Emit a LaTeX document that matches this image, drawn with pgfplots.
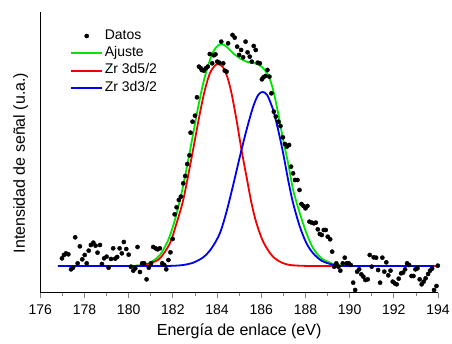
\documentclass[border=0pt]{standalone}
\usepackage{fontspec}
\setmainfont{Liberation Sans}
\usepackage{pgfplots}
\pgfplotsset{compat=1.18}
\definecolor{cgreen}{RGB}{0,230,0}
\definecolor{cred}{RGB}{240,0,0}
\definecolor{cblue}{RGB}{0,0,240}
\begin{document}
\begin{tikzpicture}
\path[use as bounding box] (-40.3pt,-51pt) rectangle (411.7pt,293pt);
\begin{axis}[
  scale only axis, width=397.7pt, height=281.3pt,
  xmin=176, xmax=194, ymin=0, ymax=12,
  axis x line*=bottom, axis y line*=left,
  x axis line style={-, line width=1pt},
  y axis line style={-, line width=1pt},
  xtick={176,178,...,194}, minor x tick num=1,
  ytick=\empty, minor ytick={1,2,...,11},
  major tick length=5pt, minor tick length=3pt,
  major x tick style={yshift=-5pt, line width=0.8pt},
  minor x tick style={yshift=-3pt, line width=0.8pt},
  minor y tick style={line width=0.6pt},
  /pgf/number format/assume math mode=true,
  /pgf/number format/1000 sep={},
  xticklabel style={font=\fontsize{14}{16}\selectfont, inner sep=0pt, yshift=-12pt},
  xlabel={Energía de enlace (eV)},
  ylabel={Intensidad de señal (u.a.)},
  xlabel style={font=\fontsize{16}{19}\selectfont, at={(axis description cs:0.5,0)}, anchor=base, yshift=-42.5pt, inner sep=0pt},
  ylabel style={font=\fontsize{16}{19}\selectfont, at={(axis description cs:-0.03,0.462)}, anchor=south, inner sep=0pt},
  legend cell align=left,
  legend style={draw=none, fill=none, at={(axis description cs:0.075,0.945)}, anchor=north west,
    font=\fontsize{14}{16}\selectfont, inner sep=0pt,
    nodes={inner xsep=2pt, inner ysep=1pt, text height=11pt, text depth=4.3pt}},
  legend image code/.code={\draw[#1] (0pt,0pt) -- (30.7pt,0pt);},
]
\addplot[only marks, mark=*, mark size=2.1pt, black,
  legend image code/.code={\fill[black] (15.5pt,0pt) circle (2.1pt);}] coordinates {
(176.98,1.479)(177.07,1.621)(177.16,1.692)(177.27,1.650)(177.39,1.010)(177.48,1.081)
(177.58,2.375)(177.69,1.266)(177.79,1.991)(177.90,1.436)(178.01,1.621)(178.10,1.266)
(178.19,1.806)(178.29,2.048)(178.40,2.147)(178.50,2.019)(178.59,1.721)(178.70,2.048)
(178.79,1.237)(178.89,1.479)(179.00,1.550)(179.09,1.081)(179.20,1.451)(179.30,1.906)
(179.39,1.465)(179.48,1.536)(179.59,1.906)(179.69,1.692)(179.78,2.176)(179.89,1.877)
(180.00,1.635)(180.10,1.123)(180.21,0.953)(180.30,1.052)(180.40,1.962)(180.51,0.896)
(180.61,1.266)(180.70,1.266)(180.81,0.583)(180.91,1.081)(181.01,1.266)(181.11,1.962)
(181.22,1.906)(181.31,1.863)(181.41,1.906)(181.52,1.266)(181.61,1.195)(181.70,1.010)
(181.80,1.408)(181.89,1.735)(181.99,2.304)(182.08,3.356)(182.17,3.655)(182.27,3.968)
(182.36,4.110)(182.47,4.679)(182.56,4.991)(182.65,5.503)(182.75,5.873)(182.80,6.840)
(182.89,7.309)(183.00,7.565)(183.09,8.348)(183.18,9.656)(183.27,9.585)(183.31,9.514)
(183.40,9.485)(183.49,9.585)(183.58,9.656)(183.67,10.196)(183.78,9.798)(183.85,10.139)
(183.93,10.182)(184.01,9.869)(184.10,9.826)(184.19,10.722)(184.28,9.798)(184.35,9.485)
(184.43,9.443)(184.50,10.651)(184.70,11.007)(184.80,10.893)(184.91,10.509)(185.00,10.154)
(185.09,10.367)(185.18,10.054)(185.29,10.722)(185.38,10.267)(185.48,10.082)(185.57,9.869)
(185.66,10.538)(185.75,10.367)(185.84,9.826)(185.94,9.798)(186.03,9.115)(186.10,9.201)
(186.19,9.258)(186.28,9.514)(186.37,9.229)(186.46,8.518)(186.57,7.736)(186.66,7.523)
(186.78,7.309)(186.87,7.125)(186.98,6.641)(187.07,6.357)(187.16,6.243)(187.26,6.314)
(187.35,5.390)(187.44,5.105)(187.53,4.821)(187.64,4.821)(187.73,4.394)(187.82,3.797)
(187.91,3.712)(188.00,3.612)(188.09,3.712)(188.18,3.043)(188.29,3.001)(188.38,2.972)
(188.47,3.001)(188.56,2.716)(188.65,2.517)(188.74,2.474)(188.83,2.688)(188.92,2.688)
(189.01,2.403)(189.12,2.290)(189.21,1.763)(189.30,1.123)(189.40,1.266)(189.49,1.123)
(189.58,0.953)(189.69,1.266)(189.78,1.507)(189.87,1.266)(189.96,1.266)(190.05,1.195)
(190.16,0.441)(190.25,0.128)(190.34,0.910)(190.43,1.010)(190.53,0.796)(190.62,0.697)
(190.71,0.555)(190.82,0.583)(190.91,1.621)(191.00,1.123)(191.09,1.522)(191.20,1.507)
(191.29,0.981)(191.38,0.441)(191.48,1.507)(191.57,0.910)(191.66,1.308)(191.75,0.754)
(191.85,0.953)(191.95,0.484)(192.04,0.412)(192.13,0.370)(192.22,0.611)(192.33,0.839)
(192.42,0.868)(192.51,1.010)(192.60,1.266)(192.69,1.195)(192.80,0.725)(192.89,0.725)
(192.98,1.010)(193.07,1.052)(193.17,0.583)(193.26,0.370)(193.35,0.484)(193.44,0.626)
(193.55,0.811)(193.64,0.953)(193.73,1.038)(193.82,0.128)(193.93,0.299)(193.99,1.166)
};
\addlegendentry{Datos}
\addplot[cgreen, line width=1.8pt, smooth, tension=0.5] coordinates {
(180.0,1.152)(180.509,1.181)(180.961,1.294)(181.414,1.621)(181.790,2.261)(182.092,3.115)
(182.393,4.252)(182.695,5.674)(182.921,6.812)(183.147,7.950)(183.373,8.945)(183.600,9.727)
(183.826,10.296)(184.052,10.566)(184.248,10.609)(184.459,10.481)(184.730,10.225)
(185.032,10.012)(185.333,9.869)(185.710,9.798)(186.012,9.656)(186.313,9.301)(186.539,8.661)
(186.766,7.665)(186.992,6.528)(187.218,5.532)(187.444,4.395)(187.746,3.399)(188.047,2.546)
(188.349,1.906)(188.726,1.479)(189.178,1.266)(189.555,1.181)(190.0,1.152)
};
\addlegendentry{Ajuste}
\addplot[cred, line width=1.8pt, smooth, tension=0.5] coordinates {
(180.0,1.152)(180.509,1.166)(180.961,1.266)(181.414,1.479)(181.866,2.119)(182.167,2.972)
(182.469,3.968)(182.770,5.390)(182.997,6.528)(183.223,7.665)(183.449,8.661)(183.675,9.372)
(183.901,9.699)(184.052,9.756)(184.248,9.656)(184.459,9.230)(184.655,8.518)(184.881,7.381)
(185.107,6.101)(185.333,4.963)(185.560,3.826)(185.786,2.972)(186.087,2.190)(186.464,1.621)
(186.841,1.337)(187.293,1.195)(188.047,1.155)(188.8,1.152)(190.0,1.152)(192.0,1.152)(194.0,1.152)
};
\addlegendentry{Zr 3d5/2}
\addplot[cblue, line width=1.8pt, smooth, tension=0.5] coordinates {
(176.8,1.152)(178.5,1.152)(180.0,1.152)(181.5,1.152)(182.0,1.160)(182.469,1.195)(182.921,1.294)
(183.373,1.522)(183.750,1.906)(184.127,2.546)(184.429,3.470)(184.730,4.608)(185.032,5.817)
(185.333,6.954)(185.635,7.950)(185.861,8.447)(186.057,8.575)(186.268,8.447)(186.539,7.807)
(186.766,6.954)(186.992,5.959)(187.218,4.821)(187.444,3.826)(187.746,2.830)(188.047,2.119)
(188.349,1.693)(188.726,1.380)(189.178,1.223)(189.555,1.166)(190.2,1.152)(192.0,1.152)(193.8,1.152)
};
\addlegendentry{Zr 3d3/2}
\end{axis}
\end{tikzpicture}
\end{document}
